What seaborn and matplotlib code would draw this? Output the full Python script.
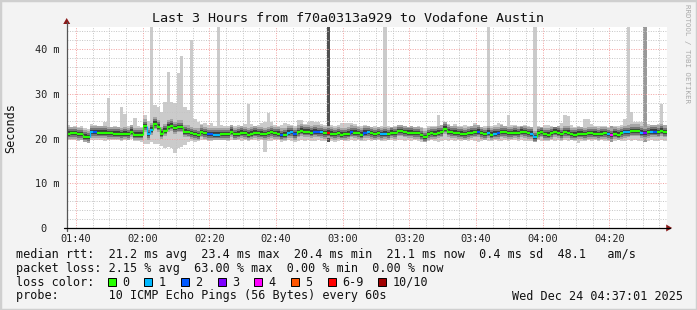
import numpy as np
import pandas as pd
import matplotlib
matplotlib.use("Agg")
import matplotlib.pyplot as plt
import seaborn as sns
from matplotlib.patches import Rectangle, Polygon
from matplotlib.lines import Line2D

# ---------------- data (one sample per minute, starting 01:37) ----------------
start_minute = 97.2   # 01:37:12 expressed in minutes after midnight

median_ms = [
    21.1, 21.2, 21.2, 21.0, 21.0, 20.4, 20.3, 21.4, 21.4, 21.3,
    21.3, 21.3, 21.2, 21.2, 21.1, 21.1, 21.0, 21.1, 21.0, 21.6,
    20.9, 20.9, 20.9, 22.8, 21.0, 22.0, 23.3, 22.7, 21.1, 21.8,
    22.7, 22.9, 22.3, 22.6, 22.6, 21.6, 21.5, 21.2, 21.0, 20.8,
    21.5, 21.2, 21.0, 21.0, 20.9, 20.9, 21.0, 21.0, 21.0, 21.6,
    21.0, 21.1, 21.3, 21.2, 20.9, 21.1, 21.3, 21.2, 21.1, 21.0,
    21.2, 21.4, 21.2, 21.1, 20.8, 20.9, 21.3, 21.4, 21.0, 21.5,
    21.8, 21.6, 21.6, 21.3, 21.6, 21.5, 21.4, 21.2, 21.3, 21.1,
    21.0, 21.2, 20.9, 21.0, 21.1, 21.5, 21.3, 21.2, 20.9, 21.3,
    21.4, 21.2, 21.0, 21.2, 21.0, 21.1, 21.0, 21.3, 21.2, 21.7,
    21.7, 21.5, 21.3, 21.3, 21.2, 21.2, 20.8, 20.3, 21.0, 21.2,
    21.1, 21.3, 21.5, 22.2, 21.6, 21.4, 21.3, 21.2, 21.1, 21.0,
    21.2, 21.3, 21.5, 21.6, 21.2, 21.0, 21.3, 20.9, 21.1, 21.2,
    21.5, 21.4, 21.2, 21.2, 21.3, 21.2, 21.6, 21.4, 21.2, 21.1,
    20.3, 21.2, 21.5, 21.0, 20.9, 21.2, 21.6, 21.3, 21.0, 21.4,
    21.3, 21.0, 20.9, 21.1, 21.1, 21.0, 21.2, 21.2, 21.1, 21.0,
    21.1, 21.2, 21.0, 20.8, 21.1, 20.9, 21.2, 21.4, 21.5, 21.7,
    21.7, 21.7, 21.3, 21.2, 21.4, 21.6, 21.6, 21.5, 21.8, 21.5,
]

# index into the loss colour legend (0, 1, 2, 3, 4, 5, 6-9, 10/10)
loss_class = [
    0, 0, 0, 0, 0, 0, 0, 1, 2, 0,
    0, 0, 0, 0, 0, 0, 0, 0, 0, 0,
    0, 0, 0, 0, 1, 1, 0, 0, 0, 0,
    0, 0, 0, 0, 0, 0, 0, 0, 0, 0,
    0, 0, 2, 2, 1, 1, 0, 0, 0, 0,
    0, 0, 0, 0, 0, 0, 0, 0, 0, 0,
    0, 0, 0, 0, 2, 0, 1, 1, 2, 0,
    0, 0, 0, 0, 2, 2, 1, 0, 6, 0,
    0, 0, 0, 0, 0, 2, 0, 0, 0, 2,
    1, 0, 0, 0, 1, 1, 0, 0, 0, 0,
    0, 0, 0, 0, 0, 0, 0, 0, 0, 0,
    0, 0, 0, 0, 0, 0, 0, 0, 0, 0,
    0, 0, 0, 2, 0, 0, 1, 0, 1, 2,
    0, 0, 0, 0, 0, 0, 0, 0, 0, 1,
    1, 0, 0, 0, 0, 0, 0, 0, 0, 0,
    0, 0, 0, 0, 0, 0, 0, 0, 0, 0,
    0, 0, 1, 4, 0, 0, 0, 1, 1, 0,
    0, 0, 1, 3, 0, 1, 2, 0, 0, 0,
]

# highest ping of each minute (ms); values above 45 run off the chart
smoke_max_ms = [
    23.1, 22.6, 22.8, 22.5, 22.9, 22.4, 22.2, 23.2, 23.0, 22.9,
    22.9, 23.7, 29.2, 22.6, 22.9, 22.7, 27.0, 25.6, 22.8, 23.0,
    24.7, 22.8, 22.6, 25.3, 24.0, 50.0, 27.6, 27.0, 25.9, 28.3,
    35.0, 28.3, 28.0, 34.8, 38.4, 27.0, 26.5, 42.0, 24.5, 23.7,
    23.3, 23.5, 23.1, 23.4, 22.9, 50.0, 23.0, 22.8, 22.9, 23.0,
    22.9, 23.1, 22.8, 23.3, 27.8, 23.2, 22.9, 23.1, 23.4, 23.8,
    25.8, 23.8, 23.0, 22.9, 23.0, 23.4, 23.3, 23.1, 22.8, 24.2,
    24.2, 23.2, 23.8, 23.9, 23.8, 23.7, 23.2, 23.0, 50.0, 23.1,
    22.9, 23.1, 23.5, 23.6, 23.4, 23.5, 23.2, 22.9, 22.8, 23.0,
    22.9, 22.7, 22.8, 22.6, 22.9, 50.0, 22.8, 22.7, 22.9, 23.0,
    23.1, 22.8, 22.6, 22.9, 22.7, 22.8, 22.7, 22.5, 22.8, 22.9,
    22.9, 25.3, 23.1, 23.8, 23.2, 22.9, 23.3, 22.8, 22.9, 23.0,
    22.8, 22.9, 23.4, 23.0, 22.7, 22.9, 50.0, 22.8, 23.0, 23.4,
    23.2, 22.9, 25.2, 23.1, 23.0, 22.8, 22.9, 23.1, 22.8, 22.7,
    50.0, 22.8, 22.7, 23.0, 23.0, 22.8, 22.6, 22.9, 23.4, 25.3,
    25.0, 23.0, 22.7, 22.8, 22.6, 24.3, 24.3, 23.2, 22.9, 22.8,
    22.8, 22.9, 22.7, 22.8, 22.9, 22.8, 23.1, 24.5, 50.0, 26.0,
    23.8, 23.8, 23.7, 50.0, 23.2, 23.0, 23.1, 23.3, 27.8, 23.1,
]

# lowest ping of each minute (ms)
smoke_min_ms = [
    19.6, 19.8, 19.7, 19.5, 19.6, 19.2, 19.1, 19.7, 19.8, 19.6,
    19.7, 19.5, 19.6, 19.8, 19.7, 19.6, 19.5, 19.7, 19.6, 19.9,
    19.4, 19.5, 19.3, 18.8, 18.9, 19.2, 18.7, 18.9, 18.4, 18.0,
    18.2, 17.9, 16.8, 17.8, 18.2, 18.6, 19.2, 19.4, 19.3, 19.5,
    19.6, 19.7, 19.5, 19.4, 19.6, 19.7, 19.6, 19.8, 19.5, 19.6,
    19.7, 19.6, 19.5, 19.7, 19.5, 19.8, 19.6, 19.5, 19.6, 17.1,
    19.5, 19.4, 19.6, 19.7, 19.3, 19.5, 19.6, 19.4, 19.2, 19.5,
    19.6, 19.5, 19.7, 19.4, 19.5, 19.6, 19.5, 19.4, 19.2, 19.5,
    19.3, 19.5, 19.6, 19.4, 19.5, 19.7, 19.5, 19.6, 19.4, 19.5,
    19.6, 19.5, 19.7, 19.6, 19.5, 19.4, 19.6, 19.7, 19.5, 19.6,
    19.7, 19.5, 19.6, 19.5, 19.7, 19.4, 19.3, 19.2, 19.5, 19.6,
    19.4, 19.2, 19.5, 19.6, 19.5, 19.6, 19.5, 19.7, 19.5, 19.6,
    19.5, 19.7, 19.4, 19.3, 19.5, 19.6, 19.4, 19.5, 19.6, 19.4,
    19.5, 19.6, 19.5, 19.7, 19.6, 19.5, 19.6, 19.4, 19.5, 19.4,
    19.3, 19.6, 19.5, 19.4, 19.5, 19.6, 19.5, 19.7, 19.5, 19.6,
    19.4, 19.6, 19.5, 19.0, 19.4, 19.5, 19.6, 19.5, 19.6, 19.5,
    19.6, 19.4, 19.5, 19.3, 19.5, 19.6, 19.4, 19.5, 19.6, 19.5,
    19.6, 19.5, 19.4, 19.3, 19.5, 19.6, 19.4, 19.5, 19.6, 19.5,
]

loss_labels = ["0", "1", "2", "3", "4", "5", "6-9", "10/10"]
loss_colors = ["#26ff00", "#00b8ff", "#0059ff", "#7e00ff",
               "#ff00ff", "#ff5500", "#ff0000", "#a10000"]

x_tick_minutes = [100, 120, 140, 160, 180, 200, 220, 240, 260]
x_tick_labels = ["01:40", "02:00", "02:20", "02:40", "03:00",
                 "03:20", "03:40", "04:00", "04:20"]
y_tick_values = [0, 10, 20, 30, 40]
y_tick_labels = ["0  ", "10 m", "20 m", "30 m", "40 m"]

title = "Last 3 Hours from f70a0313a929 to Vodafone Austin"
legend_rtt = ("median rtt:  21.2 ms avg  23.4 ms max  20.4 ms min  "
              "21.1 ms now  0.4 ms sd  48.1   am/s")
legend_loss = "packet loss: 2.15 % avg  63.00 % max  0.00 % min  0.00 % now"
legend_probe = "probe:       10 ICMP Echo Pings (56 Bytes) every 60s"
stamp = "Wed Dec 24 04:37:01 2025"

# ---------------- figure ----------------
sns.set_theme(style="white")
MONO = ["DejaVu Sans Mono"]
plt.rcParams["font.family"] = MONO

W, H = 697, 310
BG = "#f3f3f3"
fig = plt.figure(figsize=(W / 100, H / 100), dpi=100, facecolor=BG)

def fx(px):
    return px / W

def fy(py):
    return 1 - py / H

ax_l, ax_r, ax_t, ax_b = 66.7, 666.7, 27.0, 228.0
ax = fig.add_axes([fx(ax_l), fy(ax_b), fx(ax_r - ax_l), (ax_b - ax_t) / H])
ax.set_facecolor("white")

df = pd.DataFrame({
    "t": start_minute + np.arange(len(median_ms)),
    "median": median_ms,
    "loss": loss_class,
    "lo": smoke_min_ms,
    "hi": smoke_max_ms,
})

# smoke: outer band (shade darker when many pings were lost)
outer_col = np.where(df["loss"] >= 6, "#505050",
                     np.where(df["loss"] >= 3, "#999999", "#cbcbcb"))
ax.bar(df["t"], df["hi"] - df["lo"], bottom=df["lo"], width=1.0, align="edge",
       color=outer_col, linewidth=0, zorder=2)

# inner smoke bands around the median
for dn, up, col in [(1.2, 1.5, "#a6a6a6"), (0.8, 1.0, "#767676"), (0.45, 0.55, "#3c3c3c")]:
    lo = np.clip(df["median"] - dn, df["lo"], df["hi"])
    hi = np.clip(df["median"] + up, df["lo"], df["hi"])
    ax.bar(df["t"], hi - lo, bottom=lo, width=1.0, align="edge",
           color=col, linewidth=0, zorder=3)

# median line coloured by loss
cols = [loss_colors[k] for k in df["loss"]]
ax.hlines(df["median"], df["t"], df["t"] + 1, colors=cols, linewidth=1.6,
          zorder=5, capstyle="butt")
ax.vlines(df["t"].values[1:], df["median"].values[:-1], df["median"].values[1:],
          colors=cols[1:], linewidth=0.9, zorder=5)

ax.set_xlim(start_minute, start_minute + 180)
ax.set_ylim(0, 45)

# grid
ax.set_xticks(x_tick_minutes)
ax.set_xticks(np.arange(100, 278, 5), minor=True)
ax.set_yticks(y_tick_values)
ax.set_yticks(np.arange(0, 46, 2), minor=True)
ax.grid(which="minor", color="#c4c4c4", linestyle=(0, (1, 1.5)), linewidth=0.7, zorder=6)
ax.grid(which="major", color="#f2a0a0", linestyle=(0, (1, 1.5)), linewidth=0.7, zorder=7)
ax.set_axisbelow(False)

ax.set_xticklabels(x_tick_labels, fontsize=7.4, family=MONO, color="#222222")
ax.set_yticklabels(y_tick_labels, fontsize=7.4, family=MONO, color="#222222")
ax.tick_params(axis="both", which="both", length=0)
ax.tick_params(axis="x", pad=4.5)
ax.tick_params(axis="y", pad=5.2)
for s in ax.spines.values():
    s.set_visible(False)

# axes lines with arrows
fig.add_artist(Line2D([fx(ax_l), fx(ax_l)], [fy(ax_b + 3), fy(ax_t - 5)],
                      color="#555555", lw=0.9))
fig.add_artist(Line2D([fx(ax_l - 3), fx(ax_r + 3)], [fy(ax_b), fy(ax_b)],
                      color="#000000", lw=0.9))
fig.add_artist(Polygon([[fx(ax_l), fy(ax_t - 9)], [fx(ax_l - 3.5), fy(ax_t - 3)],
                        [fx(ax_l + 3.5), fy(ax_t - 3)]], closed=True,
                       color="#8b1a1a", lw=0))
fig.add_artist(Polygon([[fx(ax_r + 5.5), fy(ax_b)], [fx(ax_r - 0.5), fy(ax_b - 3.5)],
                        [fx(ax_r - 0.5), fy(ax_b + 3.5)]], closed=True,
                       color="#8b1a1a", lw=0))

# frame
fig.add_artist(Rectangle((0, 0), 1, 1, transform=fig.transFigure, fill=False,
                         edgecolor="#cfcfcf", linewidth=2.5))

# texts
fig.text(fx(348.5), fy(19), title, ha="center", va="center", fontsize=9.6,
         family=MONO, color="#111111")
fig.text(fx(11), fy(128), "Seconds", rotation=90, ha="center", va="center",
         fontsize=8.5, family=MONO, color="#111111")
fig.text(fx(687.5), fy(4), "RRDTOOL / TOBI OETIKER", rotation=270, ha="center",
         va="top", fontsize=5.3, family=MONO, color="#aaaaaa")

LX = 16
CW = 7.05
fs_leg = 8.45
fig.text(fx(LX), fy(254.5), legend_rtt, ha="left", va="center", fontsize=fs_leg,
         family=MONO, color="#111111")
fig.text(fx(LX), fy(268.3), legend_loss, ha="left", va="center", fontsize=fs_leg,
         family=MONO, color="#111111")
fig.text(fx(LX), fy(282), "loss color:", ha="left", va="center", fontsize=fs_leg,
         family=MONO, color="#111111")
fig.text(fx(LX), fy(296), legend_probe, ha="left", va="center", fontsize=fs_leg,
         family=MONO, color="#111111")
fig.text(fx(683), fy(296), stamp, ha="right", va="center", fontsize=fs_leg,
         family=MONO, color="#111111")

# loss colour legend boxes
xpos = LX + 13 * CW
for lab, col in zip(loss_labels, loss_colors):
    fig.add_artist(Rectangle((fx(xpos), fy(286)), fx(8), 8 / H, transform=fig.transFigure,
                             facecolor=col, edgecolor="#000000", linewidth=0.7))
    fig.text(fx(xpos + 2.05 * CW), fy(282), lab, ha="left", va="center",
             fontsize=fs_leg, family=MONO, color="#111111")
    xpos += (len(lab) + 4.2) * CW

fig.savefig("out.png", dpi=100, facecolor=BG)
